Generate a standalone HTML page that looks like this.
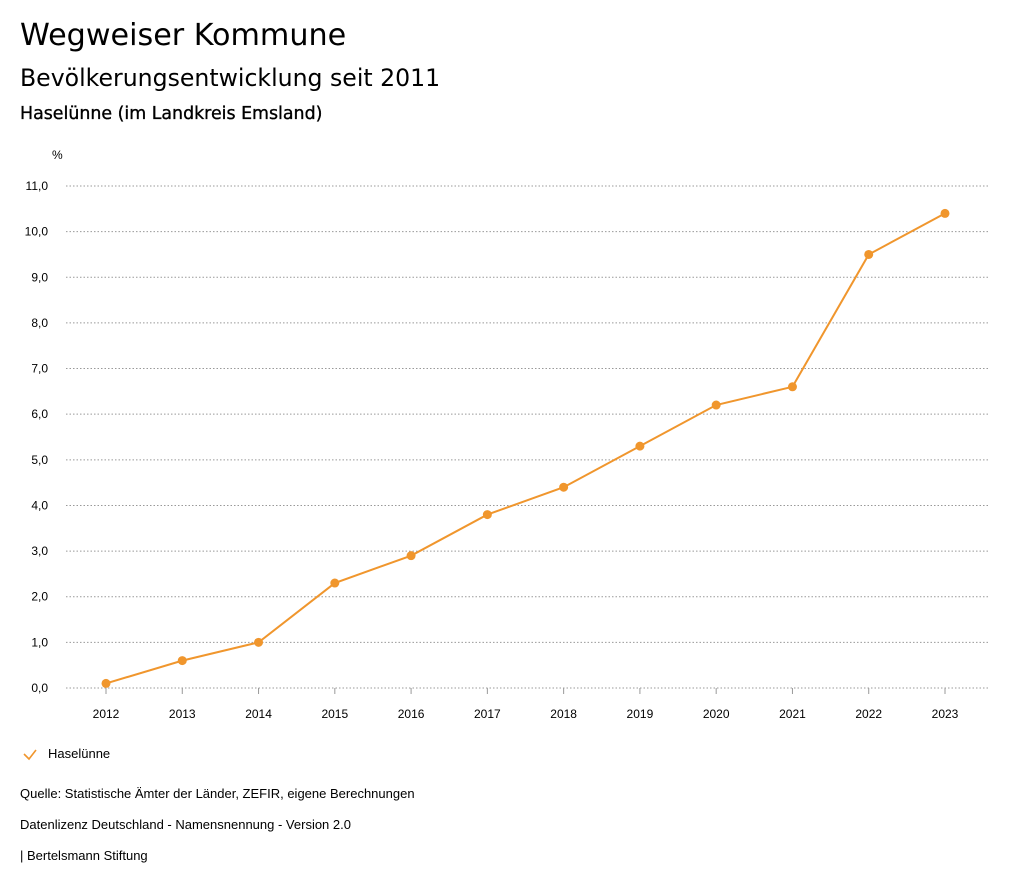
<!DOCTYPE html>
<html><head><meta charset="utf-8"><style>
body{margin:0;background:#fff;font-family:"Liberation Sans",sans-serif;color:#000;}
.wrap{position:relative;width:1024px;height:888px;}
.t{position:absolute;left:20px;white-space:nowrap;}
.d{font-family:"DejaVu Sans",sans-serif;}
</style></head><body>
<div class="wrap">
<div class="t d" style="top:18px;font-size:30.2px;">Wegweiser Kommune</div>
<div class="t d" style="top:64px;font-size:23.6px;">Bevölkerungsentwicklung seit 2011</div>
<div class="t d" style="top:104px;font-size:17.4px;-webkit-text-stroke:0.35px #000;">Haselünne (im Landkreis Emsland)</div>
<svg id="chart" width="1024" height="888" style="position:absolute;left:0;top:0"></svg>
<div class="t" style="top:746px;left:48px;font-size:13px;">Haselünne</div>
<div class="t" style="top:786px;font-size:13px;">Quelle: Statistische Ämter der Länder, ZEFIR, eigene Berechnungen</div>
<div class="t" style="top:817px;font-size:13px;">Datenlizenz Deutschland - Namensnennung - Version 2.0</div>
<div class="t" style="top:848px;font-size:13px;">| Bertelsmann Stiftung</div>
</div>
<script>
const years=[2012,2013,2014,2015,2016,2017,2018,2019,2020,2021,2022,2023];
const values=[0.1,0.6,1.0,2.3,2.9,3.8,4.4,5.3,6.2,6.6,9.5,10.4];
const yTicks=[0,1,2,3,4,5,6,7,8,9,10,11];
const NS="http://www.w3.org/2000/svg";
const svg=document.getElementById('chart');
const x=i=>106+i*(945-106)/(years.length-1);
const y=v=>688-v*(688-186)/11;
function mk(t,a,p){const e=document.createElementNS(NS,t);for(const k in a)e.setAttribute(k,a[k]);(p||svg).appendChild(e);return e;}
const col="#f0962d";
yTicks.forEach(v=>{
 const l=mk('line',{x1:66,x2:990,y1:y(v),y2:y(v),stroke:'#999','stroke-dasharray':'1.5,2','stroke-width':1});
 
 
 const t=mk('text',{x:48,y:y(v)+4,'text-anchor':'end','font-size':12,'font-family':'Liberation Sans, sans-serif'});
 t.textContent=v.toFixed(1).replace('.',',');
 
 
});
const u=mk('text',{x:52,y:159,'font-size':12,'font-family':'Liberation Sans, sans-serif'});u.textContent='%';


years.forEach((yr,i)=>{
 const tk=mk('line',{x1:x(i),x2:x(i),y1:688,y2:694,stroke:'#999'});
 
 
 const t=mk('text',{x:x(i),y:718,'text-anchor':'middle','font-size':12,'font-family':'Liberation Sans, sans-serif'});
 t.textContent=yr;
 
 
});
const line=mk('polyline',{points:values.map((v,i)=>x(i)+','+y(v)).join(' '),fill:'none',stroke:col,'stroke-width':2});


values.forEach((v,i)=>{
 const c=mk('circle',{cx:x(i),cy:y(v),r:4.5,fill:col});
 
 
});
const chk=mk('polyline',{points:'24,754 29,759 36,750',fill:'none',stroke:col,'stroke-width':1.6});


</script>
</body></html>
